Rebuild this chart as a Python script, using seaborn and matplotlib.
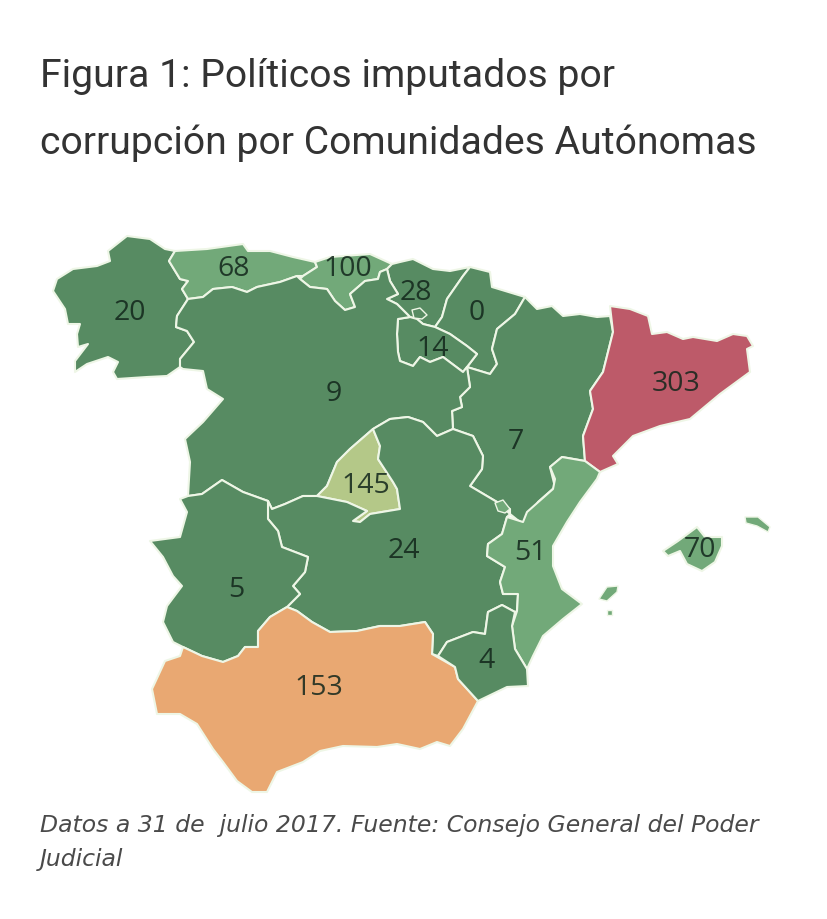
import matplotlib
matplotlib.use("Agg")
import matplotlib.pyplot as plt
from matplotlib.colors import BoundaryNorm, ListedColormap
from matplotlib.patches import Polygon
import seaborn as sns

# Chart data
regions = ["Galicia", "Asturias", "Cantabria", "País Vasco", "Navarra", "La Rioja", "Aragón", "Cataluña",
           "Castilla y León", "Madrid", "Castilla-La Mancha", "C. Valenciana", "Baleares", "Extremadura",
           "Andalucía", "Murcia"]
imputados = [20, 68, 100, 28, 0, 14, 7, 303, 9, 145, 24, 51, 70, 5, 153, 4]

# where the number sits on each region, in image pixels
label_x = [130, 234, 348, 416, 477, 433, 516, 676, 334, 366, 404, 530, 700, 236, 319, 487]
label_y = [312, 268, 268, 292, 312, 348, 441, 383, 393, 485, 550, 552, 549, 589, 687, 660]

# colour classes of the map
class_edges = [0, 40, 120, 150, 200, 400]
class_colors = ["#578b62", "#72a979", "#b4c888", "#e9a872", "#bd5a69"]

# region outlines in image pixels
galicia = [(108, 252), (127, 237), (150, 240), (165, 250), (175, 252), (169, 262), (180, 280), (188, 282), (182, 290),
           (188, 300), (177, 317), (176, 328), (187, 332), (194, 343), (180, 360), (180, 368), (167, 377), (147, 378),
           (117, 380), (113, 373), (118, 363), (108, 358), (87, 365), (75, 373), (75, 362), (88, 345), (78, 348),
           (77, 335), (80, 325), (68, 325), (65, 310), (53, 292), (57, 280), (73, 270), (97, 267), (110, 262)]
asturias = [(175, 252), (207, 250), (243, 245), (248, 252), (270, 252), (293, 258), (315, 263), (317, 268), (303, 277),
            (297, 277), (280, 283), (257, 288), (247, 293), (232, 288), (213, 290), (203, 298), (188, 300), (182, 290),
            (188, 282), (180, 280), (169, 262)]
cantabria = [(315, 263), (330, 258), (370, 255), (392, 265), (387, 270), (380, 273), (378, 280), (365, 282), (350, 295),
             (355, 308), (345, 311), (335, 302), (327, 290), (310, 288), (300, 280), (303, 277), (317, 268)]
pais_vasco = [(392, 265), (400, 263), (413, 260), (433, 270), (450, 272), (470, 268), (463, 277), (447, 300), (442, 318),
              (435, 328), (423, 325), (417, 320), (410, 318), (397, 305), (387, 300), (398, 295), (390, 282), (387, 270)]
navarra = [(470, 268), (490, 273), (492, 288), (525, 298), (515, 315), (497, 330), (492, 350), (497, 365), (490, 375),
           (467, 368), (477, 355), (467, 347), (450, 335), (435, 328), (442, 318), (447, 300), (463, 277)]
la_rioja = [(400, 362), (413, 367), (420, 358), (430, 363), (443, 358), (463, 373), (467, 368), (477, 355), (467, 347),
            (450, 335), (435, 328), (423, 325), (417, 320), (410, 318), (398, 320), (397, 335), (398, 353)]
aragon = [(525, 298), (537, 310), (552, 307), (563, 317), (580, 315), (597, 318), (610, 317), (613, 333), (603, 373),
          (590, 392), (593, 410), (583, 437), (585, 462), (562, 458), (550, 468), (555, 488), (538, 503), (525, 527),
          (510, 515), (510, 510), (497, 503), (470, 487), (482, 470), (483, 457), (473, 437), (453, 430), (452, 412),
          (462, 408), (460, 398), (470, 388), (467, 368), (490, 375), (497, 365), (492, 350), (497, 330), (515, 315)]
cataluna = [(610, 307), (630, 310), (648, 317), (652, 335), (667, 333), (683, 340), (693, 338), (717, 342), (733, 335),
            (747, 337), (753, 347), (747, 350), (750, 373), (720, 395), (690, 420), (660, 427), (633, 437), (613, 457),
            (618, 465), (600, 473), (585, 462), (583, 437), (593, 410), (590, 392), (603, 373), (613, 333)]
castilla_leon = [(188, 300), (203, 298), (213, 290), (232, 288), (247, 293), (257, 288), (280, 283), (297, 277), (300, 280),
                 (310, 288), (327, 290), (335, 302), (345, 311), (355, 308), (350, 295), (365, 282), (378, 280), (380, 273),
                 (387, 270), (390, 282), (398, 295), (387, 300), (397, 305), (410, 318), (398, 320), (397, 335), (398, 353),
                 (400, 362), (413, 367), (420, 358), (430, 363), (443, 358), (463, 373), (467, 368), (470, 388), (460, 398),
                 (462, 408), (452, 412), (453, 430), (437, 437), (423, 423), (408, 418), (390, 420), (373, 430), (350, 450),
                 (337, 463), (327, 487), (317, 497), (303, 497), (285, 505), (272, 510), (268, 502), (243, 493), (222, 481),
                 (202, 495), (188, 497), (190, 463), (185, 440), (203, 423), (223, 400), (207, 390), (203, 372), (183, 370),
                 (180, 368), (180, 360), (194, 343), (187, 332), (176, 328), (177, 317)]
madrid = [(373, 430), (380, 447), (378, 460), (393, 483), (397, 490), (400, 510), (370, 515), (360, 523), (353, 522),
          (367, 512), (347, 503), (317, 497), (327, 487), (337, 463), (350, 450)]
castilla_mancha = [(373, 430), (390, 420), (408, 418), (423, 423), (437, 437), (453, 430), (473, 437), (483, 457), (482, 470),
                   (470, 487), (497, 503), (510, 515), (507, 518), (502, 535), (488, 545), (487, 557), (505, 568), (500, 583),
                   (503, 595), (518, 595), (517, 612), (515, 613), (502, 606), (488, 613), (485, 635), (473, 633), (447, 643),
                   (438, 657), (432, 655), (433, 635), (425, 623), (400, 627), (380, 627), (357, 632), (330, 633), (312, 623),
                   (297, 612), (287, 608), (300, 595), (293, 587), (305, 573), (308, 558), (282, 548), (278, 532), (268, 520),
                   (268, 502), (272, 510), (285, 505), (303, 497), (317, 497), (347, 503), (367, 512), (353, 522), (360, 523),
                   (370, 515), (400, 510), (397, 490), (393, 483), (378, 460), (380, 447)]
valencia = [(597, 480), (580, 503), (567, 523), (553, 547), (553, 567), (562, 590), (582, 605), (563, 620), (543, 637),
            (533, 657), (527, 670), (515, 650), (512, 627), (517, 612), (518, 595), (503, 595), (500, 583), (505, 568),
            (487, 557), (488, 545), (502, 535), (507, 518), (523, 523), (527, 513), (553, 490), (555, 480), (550, 468),
            (562, 458), (585, 462), (600, 473)]
mallorca = [(663, 552), (678, 542), (697, 528), (705, 538), (722, 538), (722, 547), (715, 563), (702, 572), (687, 565),
            (680, 552), (668, 557)]
extremadura = [(180, 500), (188, 497), (202, 495), (222, 481), (243, 493), (268, 502), (268, 520), (278, 532), (282, 548),
               (308, 558), (305, 573), (293, 587), (300, 595), (287, 608), (270, 618), (258, 632), (258, 648), (245, 648),
               (238, 657), (223, 663), (202, 657), (183, 648), (173, 643), (163, 623), (167, 607), (182, 587), (173, 577),
               (163, 558), (150, 542), (180, 538), (187, 513)]
andalucia = [(287, 608), (297, 612), (312, 623), (330, 633), (357, 632), (380, 627), (400, 627), (425, 623), (433, 635),
             (432, 655), (455, 668), (458, 680), (478, 702), (463, 730), (450, 747), (437, 743), (420, 750), (397, 745),
             (377, 748), (343, 747), (320, 752), (303, 763), (277, 773), (267, 793), (252, 793), (237, 782), (223, 763),
             (213, 750), (197, 725), (180, 715), (157, 715), (152, 690), (165, 662), (180, 657), (183, 648), (202, 657),
             (223, 663), (238, 657), (245, 648), (258, 648), (258, 632), (270, 618)]
murcia = [(438, 657), (447, 643), (473, 633), (485, 635), (488, 613), (502, 606), (515, 613), (512, 627), (515, 650),
          (527, 670), (528, 687), (507, 688), (478, 702), (458, 680), (455, 668)]
outlines = [galicia, asturias, cantabria, pais_vasco, navarra, la_rioja, aragon, cataluna, castilla_leon, madrid,
            castilla_mancha, valencia, mallorca, extremadura, andalucia, murcia]

# pieces that belong to a region but lie apart from it
menorca = [(745, 518), (758, 518), (770, 528), (768, 533), (757, 527), (746, 524)]
ibiza = [(599, 600), (607, 588), (618, 587), (617, 593), (607, 602)]
formentera = [(607, 611), (612, 611), (612, 616), (607, 616)]
ademuz = [(495, 504), (503, 501), (510, 510), (505, 514), (498, 512)]
trevino = [(412, 311), (420, 309), (427, 316), (422, 320), (414, 319)]
extra_pieces = [("Baleares", menorca), ("Baleares", ibiza), ("Baleares", formentera), ("C. Valenciana", ademuz),
                ("Castilla y León", trevino)]

title_lines = ["Figura 1: Políticos imputados por", "corrupción por Comunidades Autónomas"]
caption_lines = ["Datos a 31 de  julio 2017. Fuente: Consejo General del Poder", "Judicial"]

sns.set_theme(style="white")
plt.rcParams["font.family"] = ["Roboto", "DejaVu Sans"]

palette = sns.color_palette(class_colors)
cmap = ListedColormap(palette)
norm = BoundaryNorm(class_edges, cmap.N)
value_of = dict(zip(regions, imputados))

fig = plt.figure(figsize=(8.28, 9.2), dpi=100)
ax = fig.add_axes([0, 0, 1, 1])
ax.set_xlim(0, 828)
ax.set_ylim(920, 0)
ax.axis("off")

for name, outline in zip(regions, outlines):
    ax.add_patch(Polygon(outline, closed=True, facecolor=cmap(norm(value_of[name])),
                         edgecolor="#eef6e6", linewidth=1.5, joinstyle="round"))

for name, outline in extra_pieces:
    ax.add_patch(Polygon(outline, closed=True, facecolor=cmap(norm(value_of[name])),
                         edgecolor="#eef6e6", linewidth=1.0, joinstyle="round"))

for value, x, y in zip(imputados, label_x, label_y):
    ax.text(x, y + 1, str(value), fontsize=20.5, family="Open Sans", color="#12261b", alpha=0.85,
            ha="center", va="center")

ax.text(40, 87, title_lines[0], fontsize=28.2, color="#333333", va="baseline")
ax.text(40, 154, title_lines[1], fontsize=28.2, color="#333333", va="baseline")

ax.text(40, 832, caption_lines[0], fontsize=16.9, family="DejaVu Sans", style="italic", color="#4a4a4a", va="baseline")
ax.text(40, 866, caption_lines[1], fontsize=16.9, family="DejaVu Sans", style="italic", color="#4a4a4a", va="baseline")

sns.despine(ax=ax, left=True, bottom=True)
fig.savefig("out.png", dpi=100, facecolor="white")
